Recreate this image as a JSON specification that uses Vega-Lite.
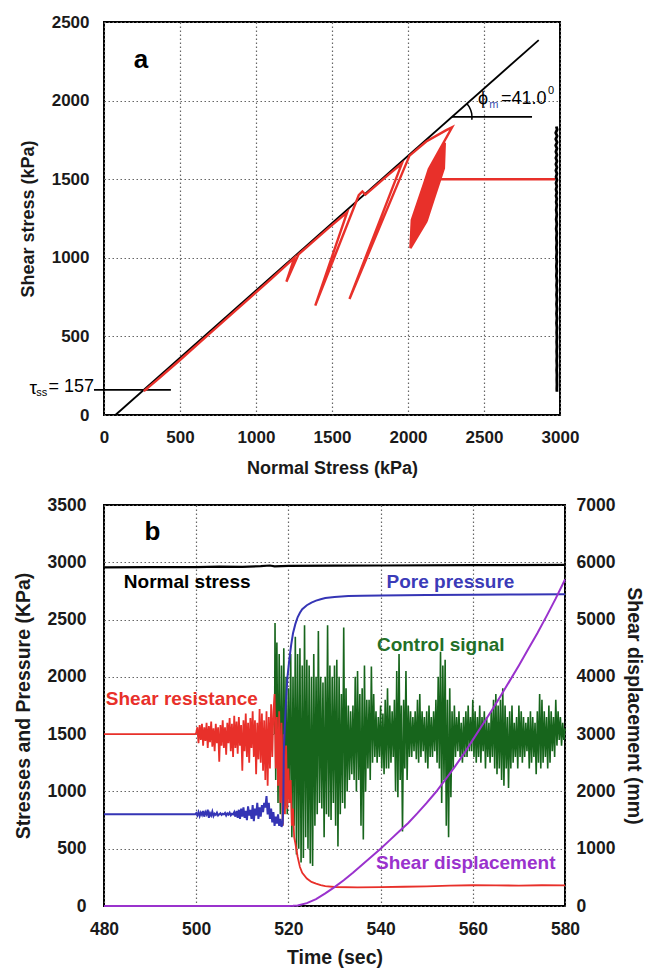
{
  "$schema": "https://vega.github.io/schema/vega-lite/v6.json",
  "background": "white",
  "padding": {"left": 12, "top": 12, "right": 0, "bottom": 0},
  "bounds": "flush",
  "spacing": 90,
  "config": {
    "view": {"stroke": "black", "strokeWidth": 2},
    "axis": {"ticks": false, "domain": false, "grid": true, "gridColor": "#666666", "gridDash": [1.5, 2.5], "gridWidth": 1.2, "labelFont": "Liberation Sans", "labelFontWeight": "bold", "labelFontSize": 17, "labelColor": "#1a1a1a", "titleFont": "Liberation Sans", "titleFontWeight": "bold", "titleColor": "#1a1a1a", "labelFlush": false, "labelOverlap": false, "labelBound": false, "format": "d"},
    "text": {"font": "Liberation Sans"}
  },
  "vconcat": [
    {
      "width": 456,
      "height": 393,
      "encoding": {
        "x": {"field": "x", "type": "quantitative", "scale": {"domain": [0, 3000], "nice": false}, "axis": {"title": "Normal Stress (kPa)", "values": [0, 500, 1000, 1500, 2000, 2500, 3000], "titleFontSize": 18, "labelPadding": 14, "titlePadding": 14}},
        "y": {"field": "y", "type": "quantitative", "scale": {"domain": [0, 2500], "nice": false}, "axis": {"title": "Shear stress (kPa)", "values": [0, 500, 1000, 1500, 2000, 2500], "titleFontSize": 18, "labelPadding": 15, "titlePadding": 14}}
      },
      "layer": [
        {
          "data": {"values": [{"x": 75, "y": 0}, {"x": 2860, "y": 2385}]},
          "mark": {"type": "line", "color": "black", "strokeWidth": 1.8}
        },
        {
          "data": {"values": [{"g": "tau", "x": -66, "y": 160}, {"g": "tau", "x": 440, "y": 160}, {"g": "phi", "x": 2289, "y": 1896}, {"g": "phi", "x": 2816, "y": 1896}]},
          "mark": {"type": "line", "color": "black", "strokeWidth": 1.8, "clip": false},
          "encoding": {"detail": {"field": "g"}}
        },
        {
          "data": {"values": [{"i": 0, "x": 2420, "y": 1878}, {"i": 1, "x": 2421, "y": 1896}, {"i": 2, "x": 2419, "y": 1918}, {"i": 3, "x": 2413, "y": 1939}, {"i": 4, "x": 2403, "y": 1960}, {"i": 5, "x": 2388, "y": 1980}]},
          "mark": {"type": "line", "color": "black", "strokeWidth": 1.5},
          "encoding": {"order": {"field": "i", "type": "quantitative"}}
        },
        {
          "data": {"values": [
            {"i": 0, "x": 2968, "y": 1500}, {"i": 1, "x": 2186, "y": 1500},
            {"i": 2, "x": 2174, "y": 1532}, {"i": 3, "x": 2178, "y": 1466}, {"i": 4, "x": 2134, "y": 1334}, {"i": 5, "x": 2086, "y": 1268}, {"i": 6, "x": 2082, "y": 1334}, {"i": 7, "x": 2126, "y": 1466},
            {"i": 8, "x": 2191, "y": 1582}, {"i": 9, "x": 2191, "y": 1491}, {"i": 10, "x": 2130, "y": 1309}, {"i": 11, "x": 2070, "y": 1219}, {"i": 12, "x": 2069, "y": 1309}, {"i": 13, "x": 2130, "y": 1491},
            {"i": 14, "x": 2207, "y": 1631}, {"i": 15, "x": 2208, "y": 1516}, {"i": 16, "x": 2131, "y": 1284}, {"i": 17, "x": 2053, "y": 1169}, {"i": 18, "x": 2053, "y": 1284}, {"i": 19, "x": 2130, "y": 1516},
            {"i": 20, "x": 2224, "y": 1681}, {"i": 21, "x": 2220, "y": 1540}, {"i": 22, "x": 2127, "y": 1260}, {"i": 23, "x": 2036, "y": 1120}, {"i": 24, "x": 2040, "y": 1260}, {"i": 25, "x": 2133, "y": 1540},
            {"i": 26, "x": 2240, "y": 1730}, {"i": 27, "x": 2233, "y": 1565}, {"i": 28, "x": 2123, "y": 1235}, {"i": 29, "x": 2020, "y": 1070}, {"i": 30, "x": 2027, "y": 1235}, {"i": 31, "x": 2137, "y": 1565},
            {"i": 32, "x": 2229, "y": 1697}, {"i": 33, "x": 2225, "y": 1549}, {"i": 34, "x": 2126, "y": 1252}, {"i": 35, "x": 2031, "y": 1103}, {"i": 36, "x": 2036, "y": 1252}, {"i": 37, "x": 2135, "y": 1549},
            {"i": 38, "x": 2213, "y": 1648}, {"i": 39, "x": 2212, "y": 1524}, {"i": 40, "x": 2129, "y": 1276}, {"i": 41, "x": 2048, "y": 1153}, {"i": 42, "x": 2048, "y": 1276}, {"i": 43, "x": 2131, "y": 1524},
            {"i": 44, "x": 2196, "y": 1598}, {"i": 45, "x": 2196, "y": 1499}, {"i": 46, "x": 2130, "y": 1301}, {"i": 47, "x": 2064, "y": 1202}, {"i": 48, "x": 2064, "y": 1301}, {"i": 49, "x": 2130, "y": 1499},
            {"i": 50, "x": 2240, "y": 1730}, {"i": 51, "x": 2198, "y": 1565}, {"i": 52, "x": 2088, "y": 1235}, {"i": 53, "x": 2020, "y": 1070}, {"i": 54, "x": 2062, "y": 1235}, {"i": 55, "x": 2172, "y": 1565},
            {"i": 56, "x": 2229, "y": 1697}, {"i": 57, "x": 2180, "y": 1549}, {"i": 58, "x": 2081, "y": 1252}, {"i": 59, "x": 2031, "y": 1103}, {"i": 60, "x": 2081, "y": 1252}, {"i": 61, "x": 2180, "y": 1549},
            {"i": 62, "x": 2218, "y": 1664}, {"i": 63, "x": 2196, "y": 1532}, {"i": 64, "x": 2108, "y": 1268}, {"i": 65, "x": 2042, "y": 1136}, {"i": 66, "x": 2064, "y": 1268}, {"i": 67, "x": 2152, "y": 1532},
            {"i": 68, "x": 2235, "y": 1714}, {"i": 69, "x": 2213, "y": 1557}, {"i": 70, "x": 2108, "y": 1243}, {"i": 71, "x": 2026, "y": 1087}, {"i": 72, "x": 2048, "y": 1243}, {"i": 73, "x": 2152, "y": 1557},
            {"i": 74, "x": 2207, "y": 1631}, {"i": 75, "x": 2186, "y": 1516}, {"i": 76, "x": 2109, "y": 1285}, {"i": 77, "x": 2053, "y": 1169}, {"i": 78, "x": 2074, "y": 1285}, {"i": 79, "x": 2151, "y": 1516},
            {"i": 80, "x": 2242, "y": 1732}, {"i": 81, "x": 2236, "y": 1570}, {"i": 82, "x": 2120, "y": 1230}, {"i": 83, "x": 2016, "y": 1062}, {"i": 84, "x": 2025, "y": 1240}, {"i": 85, "x": 2140, "y": 1570},
            {"i": 86, "x": 2290, "y": 1830}, {"i": 87, "x": 2252, "y": 1812},
            {"i": 88, "x": 2120, "y": 1740}, {"i": 89, "x": 2010, "y": 1650}, {"i": 90, "x": 1615, "y": 738}, {"i": 91, "x": 1960, "y": 1600},
            {"i": 92, "x": 1870, "y": 1528}, {"i": 93, "x": 1720, "y": 1402}, {"i": 94, "x": 1700, "y": 1422}, {"i": 95, "x": 1676, "y": 1398},
            {"i": 96, "x": 1390, "y": 696}, {"i": 97, "x": 1600, "y": 1290}, {"i": 98, "x": 1480, "y": 1192}, {"i": 99, "x": 1280, "y": 1022},
            {"i": 100, "x": 1200, "y": 848}, {"i": 101, "x": 1252, "y": 1000}, {"i": 102, "x": 1100, "y": 866}, {"i": 103, "x": 900, "y": 694},
            {"i": 104, "x": 700, "y": 522}, {"i": 105, "x": 500, "y": 350}, {"i": 106, "x": 350, "y": 224}, {"i": 107, "x": 272, "y": 160},
            {"i": 108, "x": 262, "y": 152}, {"i": 109, "x": 290, "y": 170}
          ]},
          "mark": {"type": "line", "color": "#e8302a", "strokeWidth": 2.4},
          "encoding": {"order": {"field": "i", "type": "quantitative"}}
        },
        {
          "data": {"values": [
            {"i": 0, "x": 2976, "y": 1835}, {"i": 1, "x": 2981, "y": 1815}, {"i": 2, "x": 2972, "y": 1795}, {"i": 3, "x": 2981, "y": 1775},
            {"i": 4, "x": 2972, "y": 1755}, {"i": 5, "x": 2981, "y": 1735}, {"i": 6, "x": 2972, "y": 1715}, {"i": 7, "x": 2980, "y": 1695},
            {"i": 8, "x": 2973, "y": 1675}, {"i": 9, "x": 2980, "y": 1655}, {"i": 10, "x": 2973, "y": 1635}, {"i": 11, "x": 2980, "y": 1615},
            {"i": 12, "x": 2973, "y": 1595}, {"i": 13, "x": 2980, "y": 1575}, {"i": 14, "x": 2973, "y": 1555}, {"i": 15, "x": 2980, "y": 1535},
            {"i": 16, "x": 2974, "y": 1515}, {"i": 17, "x": 2980, "y": 1495}, {"i": 18, "x": 2974, "y": 1475}, {"i": 19, "x": 2979, "y": 1455},
            {"i": 20, "x": 2974, "y": 1435}, {"i": 21, "x": 2979, "y": 1415}, {"i": 22, "x": 2974, "y": 1395}, {"i": 23, "x": 2979, "y": 1375},
            {"i": 24, "x": 2975, "y": 1355}, {"i": 25, "x": 2979, "y": 1335}, {"i": 26, "x": 2975, "y": 1305}, {"i": 27, "x": 2979, "y": 1275},
            {"i": 28, "x": 2975, "y": 1245}, {"i": 29, "x": 2979, "y": 1215}, {"i": 30, "x": 2975, "y": 1185}, {"i": 31, "x": 2979, "y": 1155},
            {"i": 32, "x": 2976, "y": 1125}, {"i": 33, "x": 2979, "y": 1095}, {"i": 34, "x": 2976, "y": 1065}, {"i": 35, "x": 2979, "y": 1035},
            {"i": 36, "x": 2976, "y": 1005}, {"i": 37, "x": 2979, "y": 975}, {"i": 38, "x": 2976, "y": 945}, {"i": 39, "x": 2979, "y": 915},
            {"i": 40, "x": 2976, "y": 885}, {"i": 41, "x": 2980, "y": 855}, {"i": 42, "x": 2977, "y": 825}, {"i": 43, "x": 2980, "y": 795},
            {"i": 44, "x": 2977, "y": 765}, {"i": 45, "x": 2980, "y": 735}, {"i": 46, "x": 2977, "y": 705}, {"i": 47, "x": 2980, "y": 675},
            {"i": 48, "x": 2977, "y": 645}, {"i": 49, "x": 2980, "y": 615}, {"i": 50, "x": 2977, "y": 585}, {"i": 51, "x": 2980, "y": 555},
            {"i": 52, "x": 2978, "y": 525}, {"i": 53, "x": 2980, "y": 495}, {"i": 54, "x": 2978, "y": 465}, {"i": 55, "x": 2980, "y": 435},
            {"i": 56, "x": 2978, "y": 405}, {"i": 57, "x": 2980, "y": 375}, {"i": 58, "x": 2978, "y": 345}, {"i": 59, "x": 2980, "y": 315},
            {"i": 60, "x": 2978, "y": 285}, {"i": 61, "x": 2980, "y": 255}, {"i": 62, "x": 2979, "y": 225}, {"i": 63, "x": 2980, "y": 195},
            {"i": 64, "x": 2979, "y": 165}, {"i": 65, "x": 2980, "y": 148}
          ]},
          "mark": {"type": "line", "color": "black", "strokeWidth": 2.8, "strokeJoin": "round"},
          "encoding": {"order": {"field": "i", "type": "quantitative"}}
        },
        {
          "data": {"values": [{"x": 244, "y": 2257, "label": "a"}]},
          "mark": {"type": "text", "fontSize": 26, "fontWeight": "bold", "align": "center", "baseline": "middle", "color": "black"},
          "encoding": {"text": {"field": "label"}}
        },
        {
          "data": {"values": [{"x": -441, "y": 172, "label": "τ"}]},
          "mark": {"type": "text", "fontSize": 19, "align": "right", "baseline": "middle", "color": "black", "clip": false},
          "encoding": {"text": {"field": "label"}}
        },
        {
          "data": {"values": [{"x": -445, "y": 140, "label": "ss"}]},
          "mark": {"type": "text", "fontSize": 11, "align": "left", "baseline": "middle", "color": "black"},
          "encoding": {"text": {"field": "label"}}
        },
        {
          "data": {"values": [{"x": -66, "y": 175, "label": "= 157"}]},
          "mark": {"type": "text", "fontSize": 18, "align": "right", "baseline": "middle", "color": "black"},
          "encoding": {"text": {"field": "label"}}
        },
        {
          "data": {"values": [{"x": 2460, "y": 2010, "label": "ϕ"}]},
          "mark": {"type": "text", "fontSize": 18, "align": "left", "baseline": "middle", "color": "black"},
          "encoding": {"text": {"field": "label"}}
        },
        {
          "data": {"values": [{"x": 2535, "y": 1972, "label": "m"}]},
          "mark": {"type": "text", "fontSize": 11, "align": "left", "baseline": "middle", "color": "#3a4fb0"},
          "encoding": {"text": {"field": "label"}}
        },
        {
          "data": {"values": [{"x": 2612, "y": 2010, "label": "=41.0"}]},
          "mark": {"type": "text", "fontSize": 18, "align": "left", "baseline": "middle", "color": "black"},
          "encoding": {"text": {"field": "label"}}
        },
        {
          "data": {"values": [{"x": 2921, "y": 2060, "label": "0"}]},
          "mark": {"type": "text", "fontSize": 11, "align": "left", "baseline": "middle", "color": "black"},
          "encoding": {"text": {"field": "label"}}
        }
      ]
    },
    {
      "width": 461,
      "height": 401,
      "encoding": {
        "x": {"field": "t", "type": "quantitative", "scale": {"domain": [480, 580], "nice": false}, "axis": {"title": "Time (sec)", "values": [480, 500, 520, 540, 560, 580], "titleFontSize": 19.5, "labelFontSize": 17.5, "labelPadding": 14, "titlePadding": 11}}
      },
      "layer": [
        {
          "encoding": {
            "y": {"field": "v", "type": "quantitative", "scale": {"domain": [0, 3500], "nice": false}, "axis": {"title": "Stresses and Pressure (KPa)", "values": [0, 500, 1000, 1500, 2000, 2500, 3000, 3500], "titleFontSize": 19.5, "labelFontSize": 17.5, "labelPadding": 18, "titlePadding": 14}}
          },
          "layer": [
            {
              "data": {"values": [{"t": 480, "v": 2955}, {"t": 490, "v": 2957}, {"t": 500, "v": 2958}, {"t": 505, "v": 2962}, {"t": 510, "v": 2960}, {"t": 514, "v": 2966}, {"t": 516, "v": 2972}, {"t": 517, "v": 2965}, {"t": 520, "v": 2968}, {"t": 530, "v": 2970}, {"t": 540, "v": 2972}, {"t": 560, "v": 2975}, {"t": 580, "v": 2977}]},
              "mark": {"type": "line", "color": "black", "strokeWidth": 2.2}
            },
            {
              "data": {"values": [
                {"t":517.0,"v":1500},{"t":517.1,"v":2470},{"t":517.25,"v":1100},{"t":517.5,"v":2300},{"t":517.75,"v":900},{"t":518.0,"v":2200},{"t":518.25,"v":800},{"t":518.5,"v":2100},{"t":518.75,"v":700},
                {"t":519.0,"v":2250},{"t":519.25,"v":900},{"t":519.5,"v":2000},{"t":519.75,"v":800},{"t":520.0,"v":1900},{"t":520.25,"v":1000},{"t":520.5,"v":2200},{"t":520.75,"v":600},
                {"t":521.0,"v":2000},{"t":521.25,"v":700},{"t":521.5,"v":2350},{"t":521.75,"v":450},{"t":522.0,"v":2200},{"t":522.25,"v":500},{"t":522.5,"v":2250},{"t":522.75,"v":380},
                {"t":523.0,"v":2100},{"t":523.25,"v":420},{"t":523.5,"v":2450},{"t":523.75,"v":600},{"t":524.0,"v":2150},{"t":524.25,"v":500},{"t":524.5,"v":2100},{"t":524.75,"v":370},
                {"t":525.0,"v":2000},{"t":525.25,"v":350},{"t":525.5,"v":2200},{"t":525.75,"v":700},{"t":526.0,"v":2000},{"t":526.25,"v":800},{"t":526.5,"v":2400},{"t":526.75,"v":900},
                {"t":527.0,"v":2000},{"t":527.25,"v":850},{"t":527.5,"v":1950},{"t":527.75,"v":600},{"t":528.0,"v":2000},{"t":528.25,"v":800},{"t":528.5,"v":2450},{"t":528.75,"v":780},
                {"t":529.0,"v":2100},{"t":529.25,"v":750},{"t":529.5,"v":2000},{"t":529.75,"v":900},{"t":530.0,"v":2100},{"t":530.25,"v":700},{"t":530.5,"v":2150},{"t":530.75,"v":520},
                {"t":531.0,"v":2000},{"t":531.25,"v":800},{"t":531.5,"v":1850},{"t":531.75,"v":900},{"t":532.0,"v":2430},{"t":532.25,"v":850},{"t":532.5,"v":1900},{"t":532.75,"v":1000},
                {"t":533.0,"v":1750},{"t":533.25,"v":1100},{"t":533.5,"v":1700},{"t":533.75,"v":1150},{"t":534.0,"v":1750},{"t":534.25,"v":1100},{"t":534.5,"v":2000},{"t":534.75,"v":1000},
                {"t":535.0,"v":2050},{"t":535.25,"v":1100},{"t":535.5,"v":1850},{"t":535.75,"v":700},{"t":536.0,"v":1900},{"t":536.25,"v":580},{"t":536.5,"v":2100},{"t":536.75,"v":1000},
                {"t":537.0,"v":1800},{"t":537.25,"v":1200},{"t":537.5,"v":1800},{"t":537.75,"v":1100},{"t":538.0,"v":2090},{"t":538.25,"v":1250},{"t":538.5,"v":1850},{"t":538.75,"v":1300},
                {"t":539.0,"v":1700},{"t":539.25,"v":1250},{"t":539.5,"v":1650},{"t":539.75,"v":1300},{"t":540.0,"v":1750},{"t":540.25,"v":1200},{"t":540.5,"v":1680},{"t":540.75,"v":1150},
                {"t":541.0,"v":1800},{"t":541.25,"v":1200},{"t":541.5,"v":1900},{"t":541.75,"v":1200},{"t":542.0,"v":1750},{"t":542.25,"v":1250},{"t":542.5,"v":1700},{"t":542.75,"v":1300},
                {"t":543.0,"v":1800},{"t":543.25,"v":1000},{"t":543.5,"v":2050},{"t":543.75,"v":950},{"t":544.0,"v":2200},{"t":544.25,"v":1100},{"t":544.5,"v":1750},{"t":544.75,"v":650},
                {"t":545.0,"v":1800},{"t":545.25,"v":1200},{"t":545.5,"v":2050},{"t":545.75,"v":1100},{"t":546.0,"v":1750},{"t":546.25,"v":1300},{"t":546.5,"v":1700},{"t":546.75,"v":1300},
                {"t":547.0,"v":1650},{"t":547.25,"v":1350},{"t":547.5,"v":1700},{"t":547.75,"v":1280},{"t":548.0,"v":1800},{"t":548.25,"v":1250},{"t":548.5,"v":1850},{"t":548.75,"v":1300},
                {"t":549.0,"v":1700},{"t":549.25,"v":1350},{"t":549.5,"v":1650},{"t":549.75,"v":1250},{"t":550.0,"v":1700},{"t":550.25,"v":1200},{"t":550.5,"v":1750},{"t":550.75,"v":1300},
                {"t":551.0,"v":1650},{"t":551.25,"v":1300},{"t":551.5,"v":1700},{"t":551.75,"v":1350},{"t":552.0,"v":1800},{"t":552.25,"v":1250},{"t":552.5,"v":2000},{"t":552.75,"v":1200},
                {"t":553.0,"v":2220},{"t":553.25,"v":900},{"t":553.5,"v":2100},{"t":553.75,"v":1100},{"t":554.0,"v":2150},{"t":554.25,"v":700},{"t":554.5,"v":1800},{"t":554.75,"v":600},
                {"t":555.0,"v":1900},{"t":555.25,"v":950},{"t":555.5,"v":1700},{"t":555.75,"v":1200},{"t":556.0,"v":1750},{"t":556.25,"v":1300},{"t":556.5,"v":1650},{"t":556.75,"v":1350},
                {"t":557.0,"v":1700},{"t":557.25,"v":1300},{"t":557.5,"v":1600},{"t":557.75,"v":1250},{"t":558.0,"v":1650},{"t":558.25,"v":1300},{"t":558.5,"v":1700},{"t":558.75,"v":1300},
                {"t":559.0,"v":1750},{"t":559.25,"v":1350},{"t":559.5,"v":1650},{"t":559.75,"v":1350},{"t":560.0,"v":1800},{"t":560.25,"v":1300},{"t":560.5,"v":1700},{"t":560.75,"v":1250},
                {"t":561.0,"v":1650},{"t":561.25,"v":1300},{"t":561.5,"v":1750},{"t":561.75,"v":1250},{"t":562.0,"v":1650},{"t":562.25,"v":1350},{"t":562.5,"v":1700},{"t":562.75,"v":1200},
                {"t":563.0,"v":1650},{"t":563.25,"v":1300},{"t":563.5,"v":1600},{"t":563.75,"v":1250},{"t":564.0,"v":1700},{"t":564.25,"v":1300},{"t":564.5,"v":1800},{"t":564.75,"v":1200},
                {"t":565.0,"v":1850},{"t":565.25,"v":1150},{"t":565.5,"v":1750},{"t":565.75,"v":1200},{"t":566.0,"v":1800},{"t":566.25,"v":1100},{"t":566.5,"v":1900},{"t":566.75,"v":1050},
                {"t":567.0,"v":1750},{"t":567.25,"v":1200},{"t":567.5,"v":1650},{"t":567.75,"v":1030},{"t":568.0,"v":1700},{"t":568.25,"v":1200},{"t":568.5,"v":1750},{"t":568.75,"v":1250},
                {"t":569.0,"v":1600},{"t":569.25,"v":1300},{"t":569.5,"v":1650},{"t":569.75,"v":1200},{"t":570.0,"v":1750},{"t":570.25,"v":1300},{"t":570.5,"v":1700},{"t":570.75,"v":1250},
                {"t":571.0,"v":1650},{"t":571.25,"v":1300},{"t":571.5,"v":1600},{"t":571.75,"v":1350},{"t":572.0,"v":1650},{"t":572.25,"v":1200},{"t":572.5,"v":1700},{"t":572.75,"v":1250},
                {"t":573.0,"v":1650},{"t":573.25,"v":1300},{"t":573.5,"v":1600},{"t":573.75,"v":1150},{"t":574.0,"v":1700},{"t":574.25,"v":1250},{"t":574.5,"v":1850},{"t":574.75,"v":1200},
                {"t":575.0,"v":1800},{"t":575.25,"v":1250},{"t":575.5,"v":1700},{"t":575.75,"v":1300},{"t":576.0,"v":1650},{"t":576.25,"v":1200},{"t":576.5,"v":1750},{"t":576.75,"v":1250},
                {"t":577.0,"v":1700},{"t":577.25,"v":1350},{"t":577.5,"v":1650},{"t":577.75,"v":1300},{"t":578.0,"v":1800},{"t":578.25,"v":1400},{"t":578.5,"v":1700},{"t":578.75,"v":1450},
                {"t":579.0,"v":1650},{"t":579.25,"v":1400},{"t":579.5,"v":1600},{"t":579.75,"v":1450},{"t":580.0,"v":1550}
              ]},
              "mark": {"type": "line", "color": "#17651c", "strokeWidth": 1.6}
            },
            {
              "data": {"values": [
                {"t":480,"v":1500},{"t":499.8,"v":1500},{"t":500.0,"v":1510},{"t":500.25,"v":1560},{"t":500.5,"v":1420},{"t":500.75,"v":1580},{"t":501.0,"v":1450},{"t":501.25,"v":1590},
                {"t":501.5,"v":1400},{"t":501.75,"v":1560},{"t":502.0,"v":1440},{"t":502.25,"v":1600},{"t":502.5,"v":1380},{"t":502.75,"v":1570},{"t":503.0,"v":1430},{"t":503.25,"v":1610},
                {"t":503.5,"v":1390},{"t":503.75,"v":1550},{"t":504.0,"v":1350},{"t":504.25,"v":1590},{"t":504.5,"v":1420},{"t":504.75,"v":1560},{"t":505.0,"v":1260},{"t":505.25,"v":1580},
                {"t":505.5,"v":1400},{"t":505.75,"v":1620},{"t":506.0,"v":1380},{"t":506.25,"v":1560},{"t":506.5,"v":1320},{"t":506.75,"v":1600},{"t":507.0,"v":1420},{"t":507.25,"v":1640},
                {"t":507.5,"v":1350},{"t":507.75,"v":1590},{"t":508.0,"v":1300},{"t":508.25,"v":1660},{"t":508.5,"v":1380},{"t":508.75,"v":1610},{"t":509.0,"v":1330},{"t":509.25,"v":1650},
                {"t":509.5,"v":1400},{"t":509.75,"v":1580},{"t":510.0,"v":1180},{"t":510.25,"v":1620},{"t":510.5,"v":1350},{"t":510.75,"v":1680},{"t":511.0,"v":1300},{"t":511.25,"v":1600},
                {"t":511.5,"v":1250},{"t":511.75,"v":1640},{"t":512.0,"v":1380},{"t":512.25,"v":1700},{"t":512.5,"v":1300},{"t":512.75,"v":1620},{"t":513.0,"v":1150},{"t":513.25,"v":1600},
                {"t":513.5,"v":1280},{"t":513.75,"v":1720},{"t":514.0,"v":1250},{"t":514.25,"v":1680},{"t":514.5,"v":1180},{"t":514.75,"v":1620},{"t":515.0,"v":1100},{"t":515.25,"v":1700},
                {"t":515.5,"v":1050},{"t":515.75,"v":1650},{"t":516.0,"v":1200},{"t":516.25,"v":1760},{"t":516.5,"v":1300},{"t":516.75,"v":1700},{"t":517.0,"v":1850},{"t":517.25,"v":1200},
                {"t":517.5,"v":1650},{"t":517.75,"v":1050},{"t":518.0,"v":1700},{"t":518.25,"v":900},{"t":518.5,"v":1600},{"t":518.75,"v":700},{"t":519.0,"v":1500},{"t":519.25,"v":800},
                {"t":519.5,"v":1400},{"t":519.75,"v":850},{"t":520.0,"v":1200},{"t":520.25,"v":900},{"t":520.5,"v":1100},{"t":520.75,"v":700},{"t":521.0,"v":850},{"t":521.25,"v":600},
                {"t":521.5,"v":550},{"t":522.0,"v":430},{"t":522.5,"v":340},{"t":523.0,"v":290},{"t":524.0,"v":240},{"t":525.0,"v":210},{"t":526.0,"v":195},{"t":527.0,"v":182},
                {"t":528.0,"v":173},{"t":530.0,"v":166},{"t":535.0,"v":163},{"t":540.0,"v":165},{"t":545.0,"v":168},{"t":550.0,"v":172},{"t":555.0,"v":177},{"t":560.0,"v":181},
                {"t":565.0,"v":180},{"t":570.0,"v":178},{"t":575.0,"v":181},{"t":580.0,"v":180}
              ]},
              "mark": {"type": "line", "color": "#e8302a", "strokeWidth": 1.8}
            },
            {
              "data": {"values": [
                {"t":480,"v":800},{"t":499.8,"v":800},{"t":500.0,"v":810},{"t":500.25,"v":790},{"t":500.5,"v":820},{"t":500.75,"v":785},{"t":501.0,"v":815},{"t":501.25,"v":795},
                {"t":501.5,"v":830},{"t":501.75,"v":780},{"t":502.0,"v":820},{"t":502.25,"v":800},{"t":502.5,"v":840},{"t":502.75,"v":770},{"t":503.0,"v":810},{"t":503.25,"v":790},
                {"t":503.5,"v":825},{"t":503.75,"v":785},{"t":504.0,"v":805},{"t":504.25,"v":795},{"t":504.5,"v":815},{"t":504.75,"v":790},{"t":505.0,"v":800},{"t":505.25,"v":810},
                {"t":505.5,"v":795},{"t":505.75,"v":805},{"t":506.0,"v":800},{"t":506.25,"v":812},{"t":506.5,"v":790},{"t":506.75,"v":808},{"t":507.0,"v":798},{"t":507.25,"v":815},
                {"t":507.5,"v":792},{"t":507.75,"v":805},{"t":508.0,"v":800},{"t":508.25,"v":820},{"t":508.5,"v":780},{"t":508.75,"v":830},{"t":509.0,"v":770},{"t":509.25,"v":840},
                {"t":509.5,"v":760},{"t":509.75,"v":850},{"t":510.0,"v":780},{"t":510.25,"v":860},{"t":510.5,"v":770},{"t":510.75,"v":830},{"t":511.0,"v":750},{"t":511.25,"v":870},
                {"t":511.5,"v":790},{"t":511.75,"v":840},{"t":512.0,"v":760},{"t":512.25,"v":880},{"t":512.5,"v":740},{"t":512.75,"v":850},{"t":513.0,"v":790},{"t":513.25,"v":900},
                {"t":513.5,"v":760},{"t":513.75,"v":860},{"t":514.0,"v":780},{"t":514.25,"v":880},{"t":514.5,"v":820},{"t":514.75,"v":900},{"t":515.0,"v":860},{"t":515.25,"v":960},
                {"t":515.5,"v":800},{"t":515.75,"v":900},{"t":516.0,"v":760},{"t":516.25,"v":850},{"t":516.5,"v":730},{"t":516.75,"v":820},{"t":517.0,"v":700},{"t":517.25,"v":780},
                {"t":517.5,"v":720},{"t":517.75,"v":800},{"t":518.0,"v":700},{"t":518.25,"v":760},{"t":518.5,"v":690},{"t":518.75,"v":720},{"t":518.9,"v":900},{"t":519.0,"v":1350},
                {"t":519.2,"v":1550},{"t":519.5,"v":1800},{"t":519.8,"v":2000},{"t":520.2,"v":2150},{"t":520.6,"v":2280},{"t":521.0,"v":2380},{"t":521.5,"v":2460},{"t":522.0,"v":2520},
                {"t":522.5,"v":2560},{"t":523.0,"v":2590},{"t":524.0,"v":2625},{"t":525.0,"v":2648},{"t":526.0,"v":2665},{"t":527.0,"v":2678},{"t":528.0,"v":2688},{"t":530.0,"v":2698},
                {"t":533.0,"v":2705},{"t":536.0,"v":2708},{"t":540.0,"v":2710},{"t":550.0,"v":2714},{"t":560.0,"v":2717},{"t":570.0,"v":2719},{"t":580.0,"v":2720}
              ]},
              "mark": {"type": "line", "color": "#3535b5", "strokeWidth": 2}
            },
            {
              "data": {"values": [{"t": 490.5, "v": 3268, "label": "b"}]},
              "mark": {"type": "text", "fontSize": 26, "fontWeight": "bold", "align": "center", "baseline": "middle", "color": "black"},
              "encoding": {"text": {"field": "label"}}
            },
            {
              "data": {"values": [{"t": 484.3, "v": 2830, "label": "Normal stress"}]},
              "mark": {"type": "text", "fontSize": 19, "fontWeight": "bold", "align": "left", "baseline": "middle", "color": "black"},
              "encoding": {"text": {"field": "label"}}
            },
            {
              "data": {"values": [{"t": 541.3, "v": 2830, "label": "Pore pressure"}]},
              "mark": {"type": "text", "fontSize": 19, "fontWeight": "bold", "align": "left", "baseline": "middle", "color": "#3b3bb8"},
              "encoding": {"text": {"field": "label"}}
            },
            {
              "data": {"values": [{"t": 539.2, "v": 2280, "label": "Control signal"}]},
              "mark": {"type": "text", "fontSize": 19, "fontWeight": "bold", "align": "left", "baseline": "middle", "color": "#236f27"},
              "encoding": {"text": {"field": "label"}}
            },
            {
              "data": {"values": [{"t": 480.4, "v": 1807, "label": "Shear resistance"}]},
              "mark": {"type": "text", "fontSize": 19, "fontWeight": "bold", "align": "left", "baseline": "middle", "color": "#e8302a"},
              "encoding": {"text": {"field": "label"}}
            },
            {
              "data": {"values": [{"t": 539.0, "v": 378, "label": "Shear displacement"}]},
              "mark": {"type": "text", "fontSize": 19, "fontWeight": "bold", "align": "left", "baseline": "middle", "color": "#9a32cd"},
              "encoding": {"text": {"field": "label"}}
            }
          ]
        },
        {
          "data": {"values": [
            {"t":480,"v":0},{"t":520,"v":0},{"t":521,"v":3},{"t":522,"v":10},{"t":524,"v":50},{"t":526,"v":120},{"t":528,"v":220},{"t":530,"v":330},
            {"t":532,"v":450},{"t":534,"v":580},{"t":536,"v":720},{"t":538,"v":860},{"t":540,"v":1000},{"t":542,"v":1150},{"t":544,"v":1300},{"t":546,"v":1450},
            {"t":548,"v":1620},{"t":550,"v":1800},{"t":552,"v":1990},{"t":554,"v":2200},{"t":556,"v":2420},{"t":558,"v":2650},{"t":560,"v":2900},{"t":562,"v":3150},
            {"t":564,"v":3400},{"t":566,"v":3660},{"t":568,"v":3930},{"t":570,"v":4200},{"t":572,"v":4480},{"t":574,"v":4760},{"t":576,"v":5060},{"t":578,"v":5370},{"t":580,"v":5700}
          ]},
          "mark": {"type": "line", "color": "#9a32cd", "strokeWidth": 2},
          "encoding": {
            "y": {"field": "v", "type": "quantitative", "scale": {"domain": [0, 7000], "nice": false}, "axis": {"orient": "right", "title": "Shear displacement (mm)", "grid": false, "values": [0, 1000, 2000, 3000, 4000, 5000, 6000, 7000], "titleFontSize": 19.5, "labelFontSize": 17.5, "labelPadding": 11, "titlePadding": 9}}
          }
        }
      ],
      "resolve": {"scale": {"y": "independent"}}
    }
  ]
}
